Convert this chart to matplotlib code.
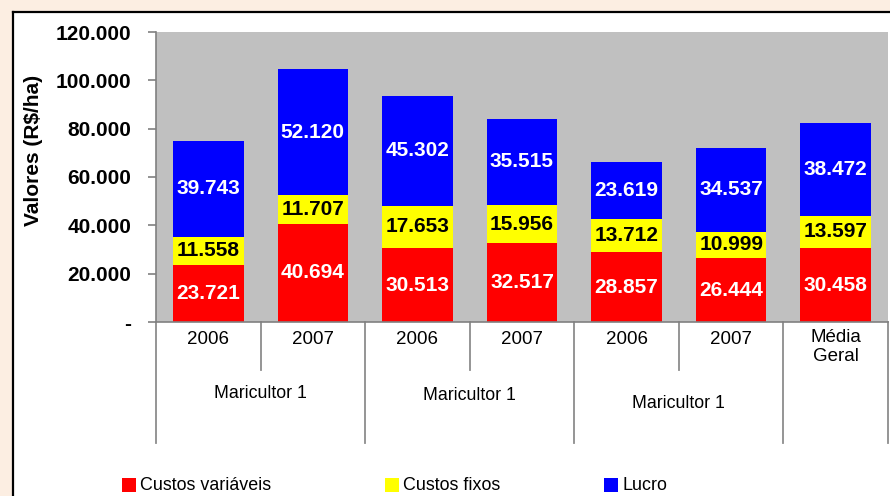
import matplotlib
matplotlib.use("Agg")
import matplotlib.pyplot as plt
from matplotlib.patches import Rectangle
import numpy as np

plt.rcParams['font.family'] = ['Liberation Sans', 'DejaVu Sans']

# Data (R$/ha)
years = ["2006", "2007", "2006", "2007", "2006", "2007", "Média\nGeral"]
groups = ["Maricultor 1", "Maricultor 1", "Maricultor 1"]
custos_variaveis = [23721, 40694, 30513, 32517, 28857, 26444, 30458]
custos_fixos = [11558, 11707, 17653, 15956, 13712, 10999, 13597]
lucro = [39743, 52120, 45302, 35515, 23619, 34537, 38472]
series_names = ["Custos variáveis", "Custos fixos", "Lucro"]
series_colors = ["#FF0000", "#FFFF00", "#0000FF"]
label_colors = ["white", "black", "white"]
yticks = [0, 20000, 40000, 60000, 80000, 100000, 120000]


def fmt_br(v):
    return f"{v:,.0f}".replace(",", ".")


W, H = 890, 496
fig = plt.figure(figsize=(W / 100, H / 100), dpi=100)
fig.patch.set_facecolor("#FCEEE2")

# white panel with black top/left border
panel = Rectangle((13 / W, 0), 1 - 13 / W, 1 - 12 / H, transform=fig.transFigure,
                  facecolor="white", edgecolor="none", zorder=-10)
fig.patches.append(panel)
fig.lines.append(plt.Line2D([13 / W, 13 / W], [0, 1 - 12 / H], transform=fig.transFigure,
                            color="black", lw=1.6, zorder=-9))
fig.lines.append(plt.Line2D([13 / W, 1], [1 - 12 / H, 1 - 12 / H], transform=fig.transFigure,
                            color="black", lw=1.6, zorder=-9))

ax_l, ax_r, ax_b, ax_t = 156, 888, 322, 32
ax = fig.add_axes([ax_l / W, 1 - ax_b / H, (ax_r - ax_l) / W, (ax_b - ax_t) / H])
ax.set_facecolor("#C0C0C0")

x = np.arange(len(years))
width = 0.675
bottom = np.zeros(len(years))
for vals, col, lc in zip([custos_variaveis, custos_fixos, lucro], series_colors, label_colors):
    vals = np.array(vals, dtype=float)
    ax.bar(x, vals, width, bottom=bottom, color=col, edgecolor="none", zorder=2)
    for xi, b, v in zip(x, bottom, vals):
        ax.text(xi, b + v / 2, fmt_br(v), ha="center", va="center", color=lc,
                fontsize=15, fontweight="bold", zorder=3)
    bottom += vals

ax.set_xlim(-0.5, len(years) - 0.5)
ax.set_ylim(0, 120000)
ax.set_yticks(yticks)
ax.set_yticklabels(["-" if t == 0 else fmt_br(t) for t in yticks], fontsize=15, fontweight="bold")
ax.set_xticks([])
for s in ["top", "right"]:
    ax.spines[s].set_visible(False)
ax.spines["left"].set_color("#808080")
ax.spines["bottom"].set_color("#808080")
ax.spines["left"].set_linewidth(1.2)
ax.spines["bottom"].set_linewidth(1.2)
ax.tick_params(axis="y", color="#808080", length=6, width=1.2, pad=12)

ax.set_ylabel("Valores (R$/ha)", fontsize=15, fontweight="bold")
ax.yaxis.set_label_coords(-0.155, 0.59)

# category table under the axis
axh = ax_b - ax_t
def ay(py):
    return (ax_b - py) / axh

trans = ax.get_xaxis_transform()
short_y, long_y = ay(370), ay(443)
for b in np.arange(-0.5, len(years), 1.0):
    bottom_y = short_y if b in (0.5, 2.5, 4.5) else long_y
    ax.plot([b, b], [0, bottom_y], transform=trans, color="#8C8C8C", lw=1.3,
            clip_on=False, zorder=1)

for xi, lab in zip(x, years):
    ax.text(xi, ay(347) if "\n" in lab else ay(340), lab, transform=trans,
            ha="center", va="center", fontsize=13.5, linespacing=1.15)

group_y = [ay(393), ay(396), ay(403)]
for gi, (g, gy) in enumerate(zip(groups, group_y)):
    ax.text(2 * gi + 0.5, gy, g, transform=trans, ha="center", va="center", fontsize=12.8)

# legend row
leg_items = [(122, 140), (385, 403), (604, 622)]
for (sx, tx), name, col in zip(leg_items, series_names, series_colors):
    fig.patches.append(Rectangle((sx / W, 1 - 492 / H), 14 / W, 14 / H,
                                 transform=fig.transFigure, facecolor=col, edgecolor="none"))
    fig.text(tx / W, 1 - 485 / H, name, ha="left", va="center", fontsize=12.9)

fig.savefig("out.png", dpi=100, facecolor=fig.get_facecolor())
